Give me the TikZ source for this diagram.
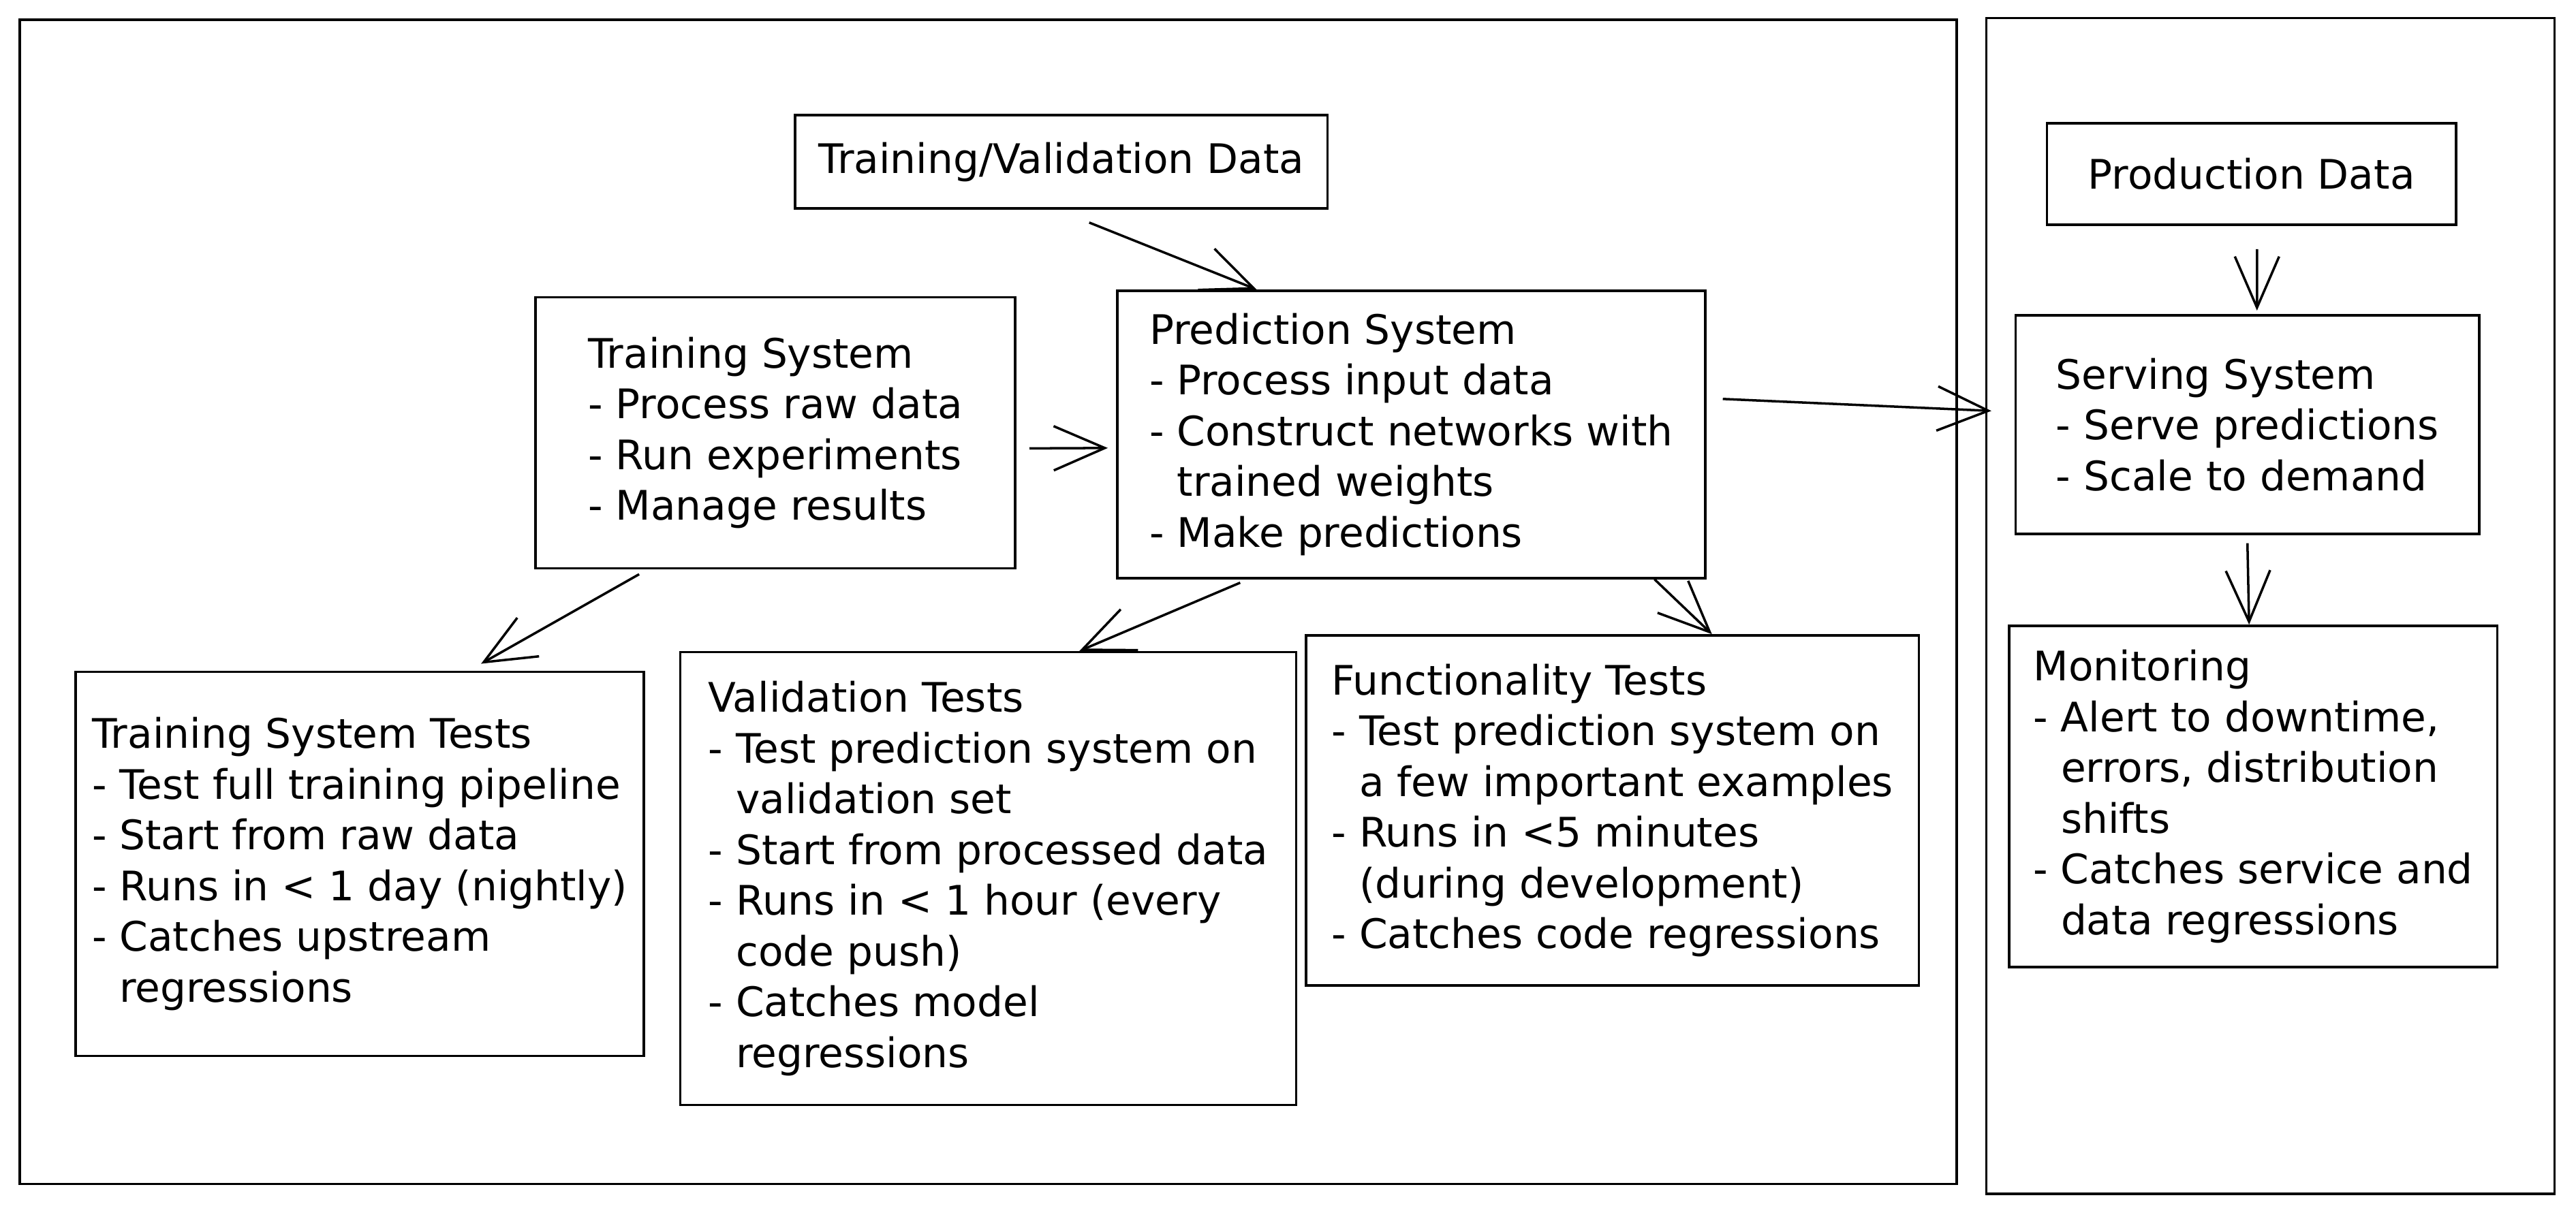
\documentclass[tikz,border=0pt]{standalone}
\usepackage{fontspec}
\setmainfont{DejaVu Sans}
\usetikzlibrary{arrows.meta}

\begin{document}
\begin{tikzpicture}[x=0.02411cm,y=-0.02411cm,line width=1pt,
    font=\fontsize{17}{21.2}\selectfont,
    sysbox/.style={draw,align=left,inner xsep=0pt,inner ysep=0pt},
    arr/.style={-{Straight Barb[length=7.5mm,width=6.5mm]}}]
\useasboundingbox (0,0) rectangle (1568,741);
          \draw (12,12) rectangle (1191,721);
          \draw (1209,11) rectangle (1555,727);
          \node[sysbox,minimum width=7.81cm,minimum height=1.37cm] (tvd) at (646,98.5) {Training/Validation Data};
          \node[sysbox,minimum width=7.04cm,minimum height=3.98cm] (ts) at (472,263.5)
            {Training System\\- Process raw data\\- Run experiments\\- Manage results};
          \node[sysbox,minimum width=8.63cm,minimum height=4.22cm] (ps) at (859,264.5)
            {Prediction System\\- Process input data\\- Construct networks with\\\hphantom{- }trained weights\\- Make predictions};
          \node[sysbox,minimum width=8.34cm,minimum height=5.64cm] (tst) at (219,526)
            {Training System Tests\\- Test full training pipeline\\- Start from raw data\\- Runs in < 1 day (nightly)\\- Catches upstream\\\hphantom{- }regressions};
          \node[sysbox,minimum width=9.04cm,minimum height=6.65cm] (vt) at (601.5,535)
            {Validation Tests\\- Test prediction system on\\\hphantom{- }validation set\\- Start from processed data\\- Runs in < 1 hour (every\\\hphantom{- }code push)\\- Catches model\\\hphantom{- }regressions};
          \node[sysbox,minimum width=8.99cm,minimum height=5.14cm] (ft) at (981.5,493.5)
            {Functionality Tests\\- Test prediction system on\\\hphantom{- }a few important examples\\- Runs in <5 minutes\\\hphantom{- }(during development)\\- Catches code regressions};
          \node[sysbox,minimum width=6.00cm,minimum height=1.49cm] (pd) at (1370.5,106) {Production Data};
          \node[sysbox,minimum width=6.80cm,minimum height=3.21cm] (ss) at (1368,258.5)
            {Serving System\\- Serve predictions\\- Scale to demand};
          \node[sysbox,minimum width=7.16cm,minimum height=5.01cm] (mon) at (1371.5,485)
            {Monitoring\\- Alert to downtime,\\\hphantom{- }errors, distribution\\\hphantom{- }shifts\\- Catches service and\\\hphantom{- }data regressions};
          \draw[arr] ([xshift=0.41cm,yshift=-0.19cm]tvd.south) -- ([xshift=-2.27cm]ps.north);
          \draw[arr] ([xshift=0.19cm,yshift=-0.23cm]ts.east) -- ([xshift=-0.12cm,yshift=-0.2cm]ps.west);
          \draw[arr] ([xshift=0.24cm,yshift=0.52cm]ps.east) -- ([xshift=-0.34cm,yshift=0.2cm]ss.west);
          \draw[arr] ([xshift=-2.0cm,yshift=-0.07cm]ts.south) -- ([xshift=1.78cm,yshift=0.1cm]tst.north);
          \draw[arr] ([xshift=-2.51cm,yshift=-0.05cm]ps.south) -- ([xshift=1.34cm]vt.north);
          \draw[arr] ([xshift=3.57cm]ps.south) -- ([xshift=1.46cm]ft.north);
          \draw[arr] ([xshift=0.08cm,yshift=-0.34cm]pd.south) -- ([xshift=0.14cm,yshift=0.05cm]ss.north);
          \draw[arr] ([yshift=-0.12cm]ss.south) -- ([xshift=-0.06cm]mon.north);
\end{tikzpicture}
\end{document}
